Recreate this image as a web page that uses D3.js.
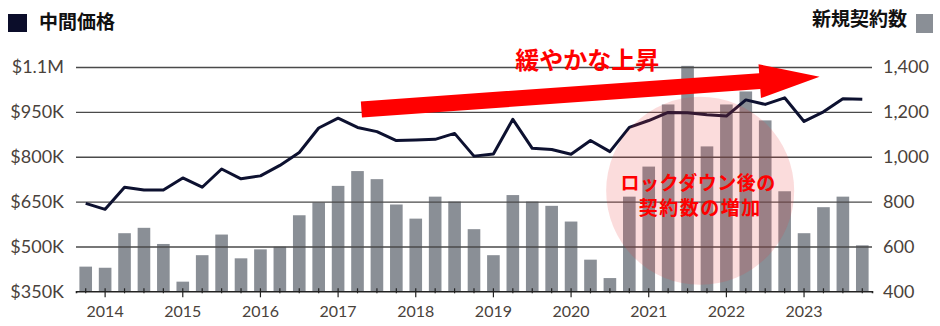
<!DOCTYPE html>
<html lang="ja">
<head>
<meta charset="utf-8">
<script src="https://d3js.org/d3.v7.min.js"></script>
<style>
  body { margin: 0; background: #fff; }
  svg text { font-family: Lato, "Noto Sans", sans-serif; }
  .jp { font-family: "Noto Sans CJK JP", sans-serif; font-weight: bold; }
</style>
</head>
<body>
<script>
// quarterly data, 2013 Q4 .. 2023 Q4
var quarters = ["2013Q4",
  "2014Q1","2014Q2","2014Q3","2014Q4",
  "2015Q1","2015Q2","2015Q3","2015Q4",
  "2016Q1","2016Q2","2016Q3","2016Q4",
  "2017Q1","2017Q2","2017Q3","2017Q4",
  "2018Q1","2018Q2","2018Q3","2018Q4",
  "2019Q1","2019Q2","2019Q3","2019Q4",
  "2020Q1","2020Q2","2020Q3","2020Q4",
  "2021Q1","2021Q2","2021Q3","2021Q4",
  "2022Q1","2022Q2","2022Q3","2022Q4",
  "2023Q1","2023Q2","2023Q3","2023Q4"];

// 新規契約数 (bars, right axis)
var contracts = [510,
  505,659,683,611,
  443,561,653,547,
  587,599,739,796,
  870,936,900,787,
  724,822,800,677,
  561,829,800,781,
  711,541,459,822,
  956,1233,1405,1046,
  1233,1291,1162,846,
  659,775,822,605];

// 中間価格 in $K (line, left axis)
var medianPrice = [644,
  624,698,689,689,
  729,698,759,726,
  736,771,814,896,
  929,898,884,854,
  856,858,878,802,
  809,925,828,824,
  808,854,817,898,
  921,948,947,940,
  936,990,975,997,
  918,950,994,992];

var priceTicks = [350, 500, 650, 800, 950, 1100];
var priceLabels = ["$350K", "$500K", "$650K", "$800K", "$950K", "$1.1M"];
var countTicks = [400, 600, 800, 1000, 1200, 1400];
var countLabels = ["400", "600", "800", "1,000", "1,200", "1,400"];

var width = 940, height = 326;
var plotL = 76, plotR = 872, plotT = 67, plotB = 291.3;

var svg = d3.select("body").append("svg")
    .attr("width", width)
    .attr("height", height);

var x = d3.scaleBand()
    .domain(quarters)
    .range([plotL, plotR])
    .paddingInner(0.35)
    .paddingOuter(0.175);

// fractional quarter index -> pixel, for annotations
var xi = function(i) { return x(quarters[0]) + x.bandwidth() / 2 + i * x.step(); };

var yPrice = d3.scaleLinear().domain([350, 1100]).range([plotB, plotT]);
var yCount = d3.scaleLinear().domain([400, 1400]).range([plotB, plotT]);

// bars
svg.append("g")
  .selectAll("rect")
    .data(contracts)
  .enter().append("rect")
    .attr("x", function(d, i) { return x(quarters[i]); })
    .attr("y", function(d) { return yCount(d); })
    .attr("width", x.bandwidth())
    .attr("height", function(d) { return yCount(400) - yCount(d); })
    .attr("fill", "#8a8f96");

// gridlines (over the bars)
svg.append("g")
    .attr("transform", "translate(" + plotL + ",0)")
    .call(d3.axisLeft(yPrice)
        .tickValues(priceTicks.slice(1))
        .tickSize(-(plotR - plotL))
        .tickFormat(""))
    .call(function(g) { g.select(".domain").remove(); })
    .call(function(g) { g.selectAll(".tick line").attr("stroke", "#4a4a4a").attr("stroke-width", 1.4); });

// left axis labels
svg.append("g")
    .attr("transform", "translate(" + plotL + ",0)")
    .call(d3.axisLeft(yPrice)
        .tickValues(priceTicks)
        .tickSize(0)
        .tickPadding(12)
        .tickFormat(function(d, i) { return priceLabels[i]; }))
    .call(function(g) { g.select(".domain").remove(); })
    .call(function(g) {
      g.selectAll("text").attr("font-size", 18).attr("fill", "#4a423b")
        .attr("font-family", "Lato, sans-serif");
    });

// right axis labels
svg.append("g")
    .attr("transform", "translate(" + plotR + ",0)")
    .call(d3.axisRight(yCount)
        .tickValues(countTicks)
        .tickSize(0)
        .tickPadding(11)
        .tickFormat(function(d, i) { return countLabels[i]; }))
    .call(function(g) { g.select(".domain").remove(); })
    .call(function(g) {
      g.selectAll("text").attr("font-size", 18).attr("fill", "#4a423b")
        .attr("font-family", "Lato, sans-serif");
    });

// bottom axis with quarter ticks, years on Q1
var xAxis = svg.append("g")
    .attr("transform", "translate(0," + plotB + ")")
    .call(d3.axisBottom(x)
        .tickValues(quarters)
        .tickSizeOuter(0)
        .tickSize(2)
        .tickFormat(function(d) { return d.slice(4) === "Q1" ? d.slice(0, 4) : ""; }));
xAxis.select(".domain").attr("stroke", "#222").attr("stroke-width", 1.6);
xAxis.selectAll(".tick line")
    .attr("stroke", "#222")
    .attr("stroke-width", 1.2)
    .attr("y1", -3)
    .attr("y2", function(d) { return d.slice(4) === "Q1" ? 6 : 2; });
xAxis.selectAll(".tick text")
    .attr("y", 14)
    .attr("font-size", 16)
    .attr("fill", "#4a423b")
    .attr("font-family", "Lato, sans-serif");

// median price line
var line = d3.line()
    .x(function(d, i) { return x(quarters[i]) + x.bandwidth() / 2; })
    .y(function(d) { return yPrice(d); });

svg.append("path")
    .datum(medianPrice)
    .attr("fill", "none")
    .attr("stroke", "#0d1130")
    .attr("stroke-width", 3)
    .attr("stroke-linejoin", "round")
    .attr("d", line);

// lockdown circle
var circ = {i: 31.65, count: 848, r: 94};
svg.append("circle")
    .attr("cx", xi(circ.i))
    .attr("cy", yCount(circ.count))
    .attr("r", circ.r)
    .attr("fill", "rgb(235,60,60)")
    .attr("fill-opacity", 0.18);

svg.append("text")
    .attr("class", "jp")
    .attr("x", xi(circ.i) - 2)
    .attr("y", yCount(circ.count) - 1)
    .attr("text-anchor", "middle")
    .attr("font-size", 19)
    .attr("letter-spacing", 0.5)
    .attr("fill", "#ff0000")
    .text("ロックダウン後の");
svg.append("text")
    .attr("class", "jp")
    .attr("x", xi(circ.i))
    .attr("y", yCount(circ.count) + 24)
    .attr("text-anchor", "middle")
    .attr("font-size", 19)
    .attr("letter-spacing", 1.5)
    .attr("fill", "#ff0000")
    .text("契約数の増加");

// rising arrow
var arrow = {from: {i: 14.2, price: 958}, to: {i: 37.8, price: 1067}};
var ax0 = xi(arrow.from.i), ay0 = yPrice(arrow.from.price);
var ax1 = xi(arrow.to.i), ay1 = yPrice(arrow.to.price);
var len = Math.hypot(ax1 - ax0, ay1 - ay0);
var ux = (ax1 - ax0) / len, uy = (ay1 - ay0) / len;
var nx = -uy, ny = ux;
var shaft = 8, head = 17, headLen = 60;
var bx = ax1 - ux * headLen, by = ay1 - uy * headLen;
var pts = [
  [ax0 + nx * shaft, ay0 + ny * shaft],
  [bx + nx * shaft, by + ny * shaft],
  [bx + nx * head, by + ny * head],
  [ax1, ay1],
  [bx - nx * head, by - ny * head],
  [bx - nx * shaft, by - ny * shaft],
  [ax0 - nx * shaft, ay0 - ny * shaft]
];
svg.append("path")
    .attr("d", d3.line()(pts) + "Z")
    .attr("fill", "#ff0000");

svg.append("text")
    .attr("class", "jp")
    .attr("x", xi(22.12))
    .attr("y", yPrice(1093))
    .attr("font-size", 24)
    .attr("fill", "#ff0000")
    .text("緩やかな上昇");

// legends
svg.append("rect")
    .attr("x", 8).attr("y", 14)
    .attr("width", 19).attr("height", 18)
    .attr("fill", "#0b0d2a");
svg.append("text")
    .attr("class", "jp")
    .attr("x", 39).attr("y", 29)
    .attr("font-size", 19)
    .attr("fill", "#111")
    .text("中間価格");

svg.append("text")
    .attr("class", "jp")
    .attr("x", 907).attr("y", 26)
    .attr("text-anchor", "end")
    .attr("font-size", 19)
    .attr("fill", "#111")
    .text("新規契約数");
svg.append("rect")
    .attr("x", 916).attr("y", 14)
    .attr("width", 17).attr("height", 19)
    .attr("fill", "#8a8f96");
</script>
</body>
</html>
